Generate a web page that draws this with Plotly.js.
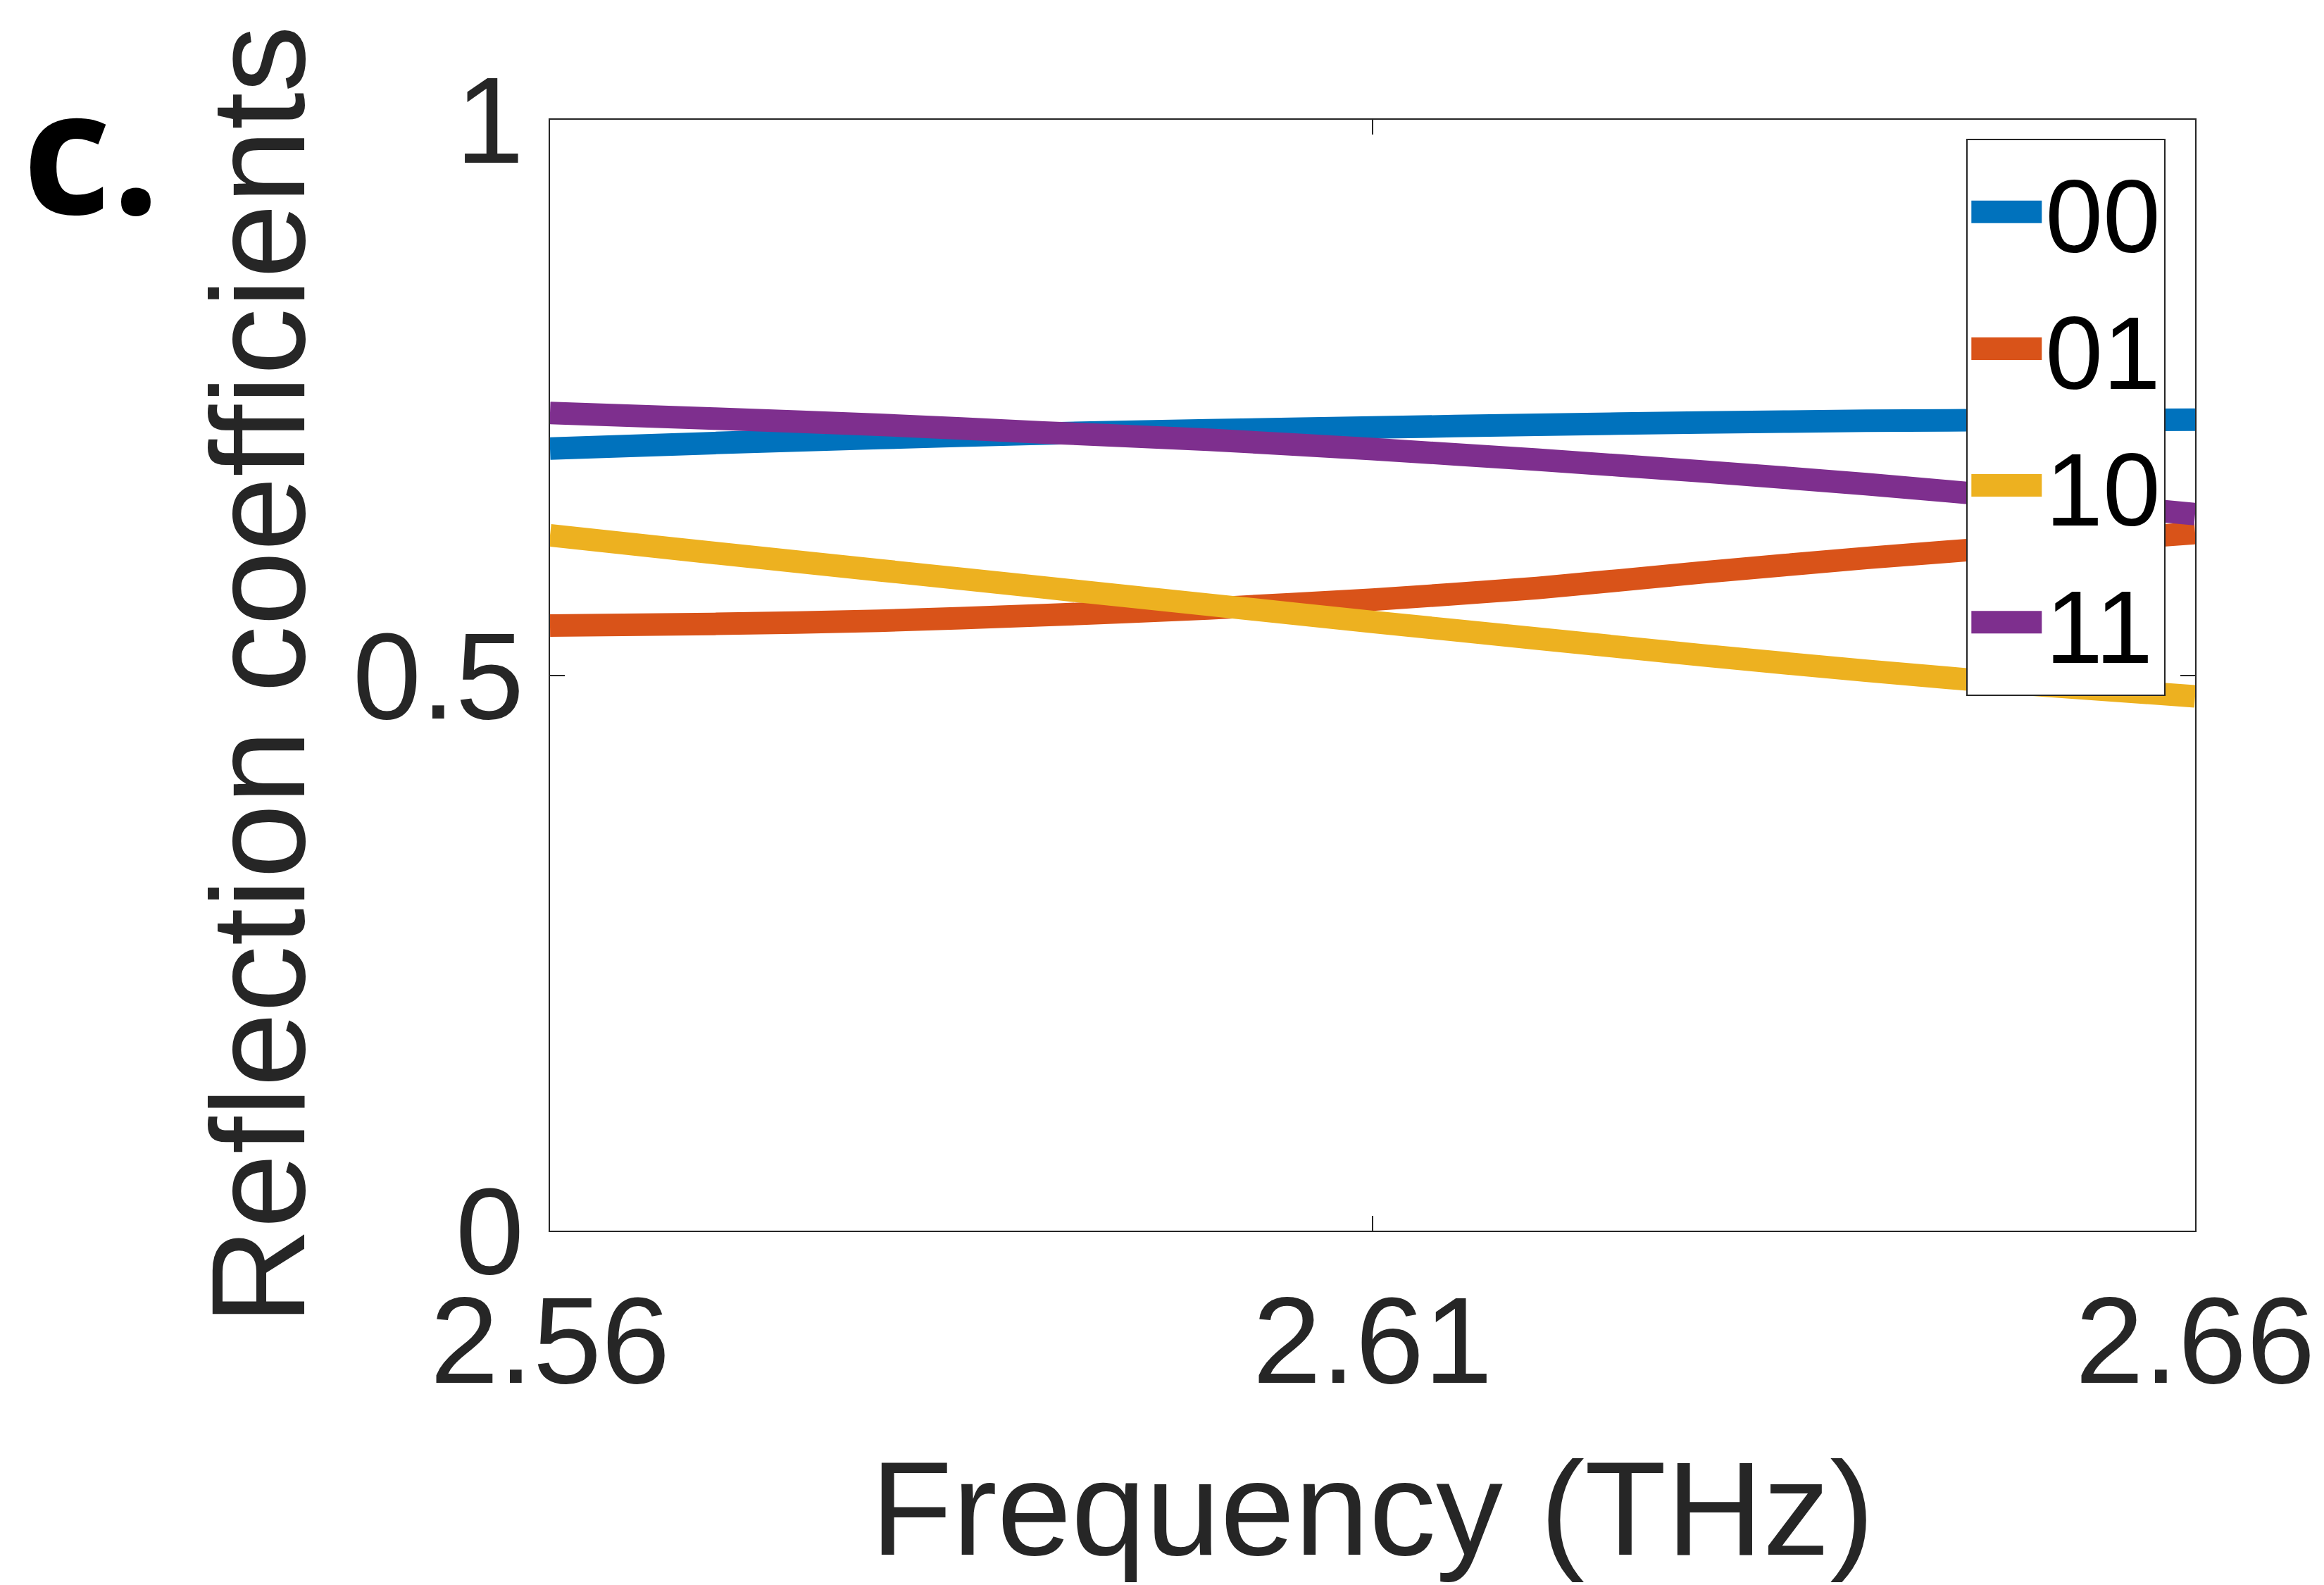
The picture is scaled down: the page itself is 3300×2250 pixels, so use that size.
<!DOCTYPE html>
<html>
<head>
<meta charset="utf-8">
<script src="https://cdn.plot.ly/plotly-3.0.1.min.js"></script>
<style>
html,body{margin:0;padding:0;background:#fff;}
#chart{width:3300px;height:2250px;}
</style>
</head>
<body>
<div id="chart"></div>
<script>
// Data
const freq = [2.56, 2.57, 2.58, 2.59, 2.60, 2.61, 2.62, 2.63, 2.64, 2.65, 2.66];
const r00 = [0.704, 0.709, 0.7135, 0.7175, 0.7205, 0.723, 0.7255, 0.7275, 0.729, 0.7298, 0.730];
const r01 = [0.5447, 0.5462, 0.549, 0.554, 0.560, 0.568, 0.5785, 0.5925, 0.6055, 0.617, 0.628];
const r10 = [0.626, 0.610, 0.5945, 0.579, 0.5635, 0.548, 0.533, 0.518, 0.504, 0.4915, 0.481];
const r11 = [0.736, 0.731, 0.7255, 0.7185, 0.712, 0.7035, 0.694, 0.6835, 0.672, 0.659, 0.645];
const seriesNames = ["00", "01", "10", "11"];
const seriesColors = ["#0072BD", "#D95319", "#EDB120", "#7E2F8E"];
const xTickVals = [2.56, 2.61, 2.66];
const xTickText = ["2.56", "2.61", "2.66"];
const yTickVals = [0, 0.5, 1];
const yTickText = ["0", "0.5", "1"];
const panelLabel = "c.";
const xTitle = "Frequency (THz)";
const yTitle = "Reflection coefficients";

const LINE_W = 32;
const seriesValues = [r00, r01, r10, r11];
const traces = seriesValues.map((vals, i) => ({
  type: "scatter",
  mode: "lines",
  x: freq,
  y: vals,
  name: seriesNames[i],
  line: {color: seriesColors[i], width: LINE_W, shape: "spline", smoothing: 0.6}
}));

const axisCommon = {
  showline: true,
  linecolor: "#262626",
  linewidth: 2,
  mirror: "ticks",
  ticks: "inside",
  ticklen: 21,
  tickwidth: 2,
  tickcolor: "#262626",
  showgrid: false,
  zeroline: false,
  tickfont: {family: "Liberation Sans, Arial, sans-serif", size: 175, color: "#262626"}
};

const layout = {
  width: 3300,
  height: 2250,
  paper_bgcolor: "#ffffff",
  plot_bgcolor: "#ffffff",
  margin: {l: 781, r: 183, t: 170, b: 503, pad: 0},
  showlegend: true,
  legend: {
    x: 0.861, y: 0.983, xanchor: "left", yanchor: "top",
    bgcolor: "#ffffff",
    bordercolor: "#262626",
    borderwidth: 2,
    font: {family: "Liberation Sans, Arial, sans-serif", size: 147, color: "#000000"},
    itemwidth: 100,
    tracegroupgap: 0
  },
  xaxis: Object.assign({}, axisCommon, {
    range: [2.56, 2.66],
    tickmode: "array",
    tickvals: xTickVals,
    ticktext: xTickText,
    ticklabelstandoff: 4,
    title: {text: xTitle, standoff: 75,
      font: {family: "Liberation Sans, Arial, sans-serif", size: 190, color: "#262626"}}
  }),
  yaxis: Object.assign({}, axisCommon, {
    range: [0, 1],
    tickmode: "array",
    tickvals: yTickVals,
    ticktext: yTickText,
    ticklabelstandoff: 0,
    title: {text: yTitle, standoff: 3,
      font: {family: "Liberation Sans, Arial, sans-serif", size: 190, color: "#262626"}}
  }),
  annotations: [{
    text: panelLabel,
    xref: "paper", yref: "paper",
    x: -0.3215, y: 0.868,
    xanchor: "left", yanchor: "bottom",
    showarrow: false,
    font: {family: "Open Sans, sans-serif", size: 245, color: "#000000", weight: 700}
  }]
};

Plotly.newPlot("chart", traces, layout, {staticPlot: true, displayModeBar: false}).then(() => {
  // Plotly caps legend line thickness; restore the thick MATLAB-style samples
  document.querySelectorAll("#chart .legend .legendlines path").forEach(p => {
    p.style.strokeWidth = LINE_W + "px";
  });
});
</script>
</body>
</html>
